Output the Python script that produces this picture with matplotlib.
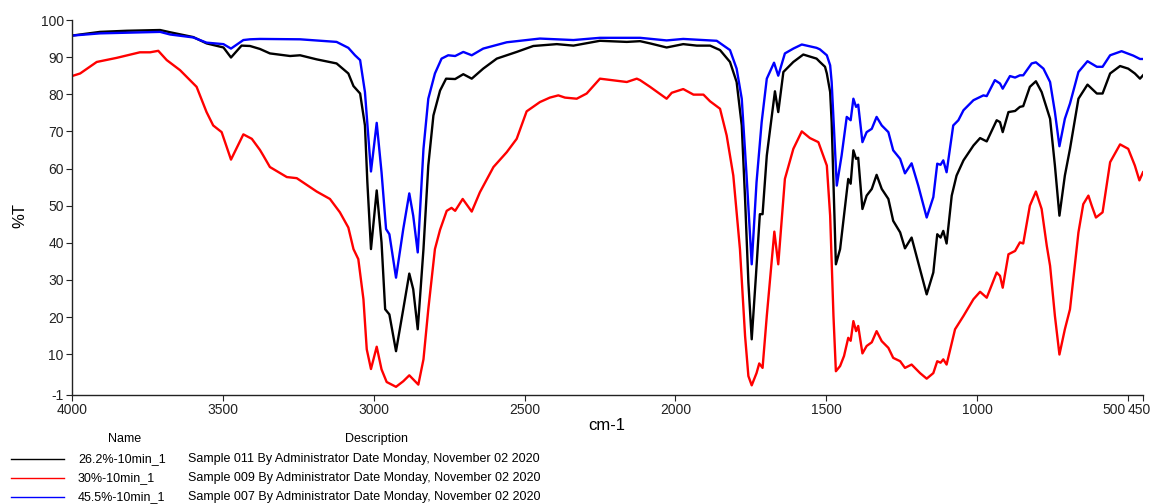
import matplotlib
matplotlib.use("Agg")
import matplotlib.pyplot as plt
from matplotlib.lines import Line2D
from matplotlib.transforms import ScaledTranslation

plt.rcParams['font.family'] = ['Liberation Sans', 'DejaVu Sans']

# ---------------- data (wavenumber cm-1, %T) ----------------
black_wn = [4000, 3907, 3819, 3708, 3675, 3598, 3554, 3498, 3473, 3438, 3410, 3377, 3344, 3277, 3244,
            3189, 3123, 3084, 3067, 3045, 3029, 3021, 3009, 2990, 2974, 2962, 2948, 2926, 2902, 2882,
            2869, 2854, 2835, 2819, 2802, 2780, 2760, 2730, 2703, 2675, 2637, 2592, 2526, 2471, 2393,
            2338, 2250, 2161, 2117, 2084, 2029, 1974, 1929, 1885, 1852, 1819, 1797, 1780, 1769, 1758,
            1747, 1733, 1720, 1711, 1697, 1670, 1659, 1642, 1609, 1576, 1532, 1521, 1504, 1498, 1487,
            1482, 1468, 1454, 1441, 1427, 1419, 1410, 1401, 1394, 1380, 1366, 1349, 1333, 1316, 1294,
            1278, 1255, 1239, 1217, 1195, 1167, 1145, 1132, 1121, 1112, 1101, 1084, 1068, 1045, 1012,
            990, 968, 935, 924, 915, 896, 874, 858, 847, 825, 805, 786, 758, 742, 727, 709, 692, 664,
            634, 603, 584, 559, 526, 499, 477, 460, 450]
black_t = [95.8, 96.8, 97.1, 97.3, 96.7, 95.4, 93.7, 92.6, 89.9, 93.1, 93.0, 92.2, 91.0, 90.3, 90.5,
           89.4, 88.3, 85.6, 82.2, 80.2, 71.6, 56.3, 38.3, 54.1, 40.1, 22.1, 20.7, 10.8, 22.1, 31.7,
           27.5, 16.7, 38.3, 60.8, 74.3, 81.0, 84.2, 84.1, 85.4, 84.2, 86.9, 89.6, 91.4, 93.0, 93.5,
           93.1, 94.4, 94.1, 94.3, 93.7, 92.6, 93.5, 93.1, 93.1, 91.9, 88.7, 83.3, 71.6, 51.8, 29.3,
           14.0, 31.1, 47.7, 47.7, 63.5, 80.8, 75.2, 86.0, 88.7, 90.7, 89.6, 88.7, 87.4, 85.6, 80.6,
           72.5, 34.2, 38.3, 47.3, 57.2, 55.9, 64.9, 62.6, 62.9, 49.1, 52.7, 54.5, 58.3, 54.5, 51.8,
           45.9, 42.8, 38.5, 41.4, 34.7, 26.1, 32.0, 42.3, 41.4, 43.2, 39.8, 52.7, 58.1, 62.2, 66.2,
           68.2, 67.3, 73.0, 72.5, 69.8, 75.2, 75.5, 76.6, 76.8, 82.0, 83.5, 80.6, 73.4, 60.8, 47.3,
           58.1, 65.3, 78.8, 82.6, 80.2, 80.2, 85.6, 87.6, 86.9, 85.6, 84.2, 85.1]

red_wn = [4000, 3973, 3918, 3852, 3775, 3741, 3714, 3686, 3642, 3609, 3587, 3554, 3532, 3504, 3473,
          3432, 3404, 3377, 3366, 3344, 3288, 3255, 3189, 3145, 3112, 3084, 3067, 3051, 3034, 3023,
          3009, 2990, 2974, 2957, 2926, 2902, 2882, 2869, 2852, 2835, 2819, 2797, 2780, 2758, 2742,
          2730, 2705, 2675, 2648, 2603, 2559, 2526, 2493, 2449, 2416, 2388, 2366, 2327, 2294, 2250,
          2161, 2128, 2117, 2084, 2029, 2012, 1974, 1940, 1907, 1885, 1852, 1830, 1808, 1786, 1769,
          1758, 1747, 1731, 1722, 1711, 1697, 1672, 1659, 1637, 1609, 1581, 1554, 1526, 1510, 1498,
          1487, 1476, 1468, 1454, 1441, 1427, 1419, 1410, 1401, 1394, 1380, 1366, 1349, 1333, 1316,
          1294, 1278, 1255, 1239, 1217, 1189, 1167, 1145, 1132, 1121, 1112, 1101, 1073, 1045, 1012,
          990, 968, 935, 924, 915, 896, 874, 858, 847, 825, 805, 786, 769, 758, 742, 727, 709, 692,
          664, 648, 631, 620, 606, 584, 559, 526, 499, 477, 462, 450]
red_t = [84.9, 85.6, 88.7, 89.8, 91.3, 91.3, 91.7, 89.2, 86.5, 83.8, 82.0, 75.2, 71.6, 69.8, 62.4,
         69.2, 68.0, 65.0, 63.5, 60.4, 57.7, 57.4, 53.8, 51.8, 48.2, 44.1, 38.3, 35.6, 24.8, 11.3,
         6.0, 12.0, 5.9, 2.5, 1.2, 2.7, 4.3, 3.2, 1.8, 8.6, 22.1, 38.3, 43.5, 48.6, 49.4,
         48.6, 51.8, 48.4, 53.6, 60.4, 64.4, 68.0, 75.4, 77.9, 79.1, 79.7, 79.1, 78.8, 80.2, 84.2,
         83.3, 84.2, 83.8, 82.0, 78.8, 80.4, 81.4, 79.9, 79.9, 78.1, 76.1, 68.9, 58.1, 38.3, 14.9,
         4.1, 1.6, 4.9, 7.5, 6.3, 20.3, 43.0, 34.2, 57.2, 65.3, 70.0, 68.2, 67.1, 63.5, 60.8,
         47.3, 20.3, 5.4, 6.8, 9.5, 14.4, 13.6, 18.9, 16.2, 17.6, 10.2, 12.2, 13.2, 16.2, 13.5,
         11.7, 9.0, 8.1, 6.3, 7.2, 4.9, 3.4, 4.9, 8.1, 7.7, 8.6, 7.2, 16.7, 20.3, 24.8,
         26.8, 25.2, 32.0, 31.1, 27.9, 36.9, 37.8, 40.1, 39.8, 50.0, 53.8, 49.1, 39.2, 33.8, 20.3, 9.9, 16.7, 22.1,
         42.8, 50.4, 52.7, 50.0, 46.8, 48.2, 61.7, 66.5, 65.3, 60.8, 56.8, 59.0]

blue_wn = [4000, 3907, 3708, 3675, 3598, 3554, 3498, 3473, 3432, 3410, 3377, 3244, 3123, 3084, 3062,
           3045, 3029, 3009, 2990, 2974, 2959, 2948, 2926, 2902, 2882, 2869, 2854, 2835, 2819, 2797,
           2775, 2753, 2730, 2703, 2675, 2637, 2559, 2449, 2338, 2250, 2117, 2029, 1974, 1863, 1819,
           1797, 1780, 1764, 1747, 1731, 1714, 1697, 1673, 1659, 1637, 1609, 1581, 1532, 1521, 1498,
           1487, 1482, 1465, 1449, 1432, 1419, 1410, 1401, 1394, 1380, 1366, 1349, 1333, 1316, 1294,
           1278, 1255, 1239, 1217, 1195, 1167, 1145, 1132, 1121, 1112, 1101, 1079, 1062, 1045, 1012,
           979, 968, 941, 924, 915, 891, 874, 858, 847, 819, 805, 780, 758, 742, 727, 709, 692, 664,
           634, 603, 584, 559, 521, 482, 460, 450]
blue_t = [95.8, 96.4, 96.8, 96.1, 95.3, 93.9, 93.5, 92.3, 94.6, 94.8, 94.9, 94.8, 94.1, 92.5, 90.5,
          89.2, 80.6, 59.2, 72.3, 59.0, 43.7, 42.3, 30.6, 43.7, 53.3, 47.3, 37.4, 65.3, 78.8, 85.6,
          89.6, 90.5, 90.3, 91.4, 90.5, 92.3, 94.0, 95.0, 94.6, 95.2, 95.2, 94.5, 94.9, 94.4, 91.9,
          86.9, 78.8, 58.1, 34.2, 56.3, 72.5, 84.2, 88.5, 85.0, 91.0, 92.3, 93.4, 92.5, 92.1, 90.5,
          87.8, 83.3, 55.4, 63.5, 73.9, 73.0, 78.8, 76.6, 77.2, 67.1, 69.8, 70.7, 73.9, 71.6, 69.8,
          64.9, 62.6, 58.7, 61.4, 55.4, 46.8, 52.3, 61.3, 61.0, 62.2, 59.0, 71.6, 73.0, 75.7, 78.4,
          79.7, 79.5, 83.8, 82.9, 81.5, 84.9, 84.5, 85.1, 85.1, 88.3, 88.6, 86.9, 83.3, 75.2, 66.0,
          73.4, 77.5, 86.0, 88.9, 87.4, 87.4, 90.5, 91.6, 90.4, 89.5, 89.5]

names = ["26.2%-10min_1", "30%-10min_1", "45.5%-10min_1"]
descriptions = ["Sample 011 By Administrator Date Monday, November 02 2020",
                "Sample 009 By Administrator Date Monday, November 02 2020",
                "Sample 007 By Administrator Date Monday, November 02 2020"]
colors = ["#000000", "#ff0000", "#0000ff"]

x_ticks = [4000, 3500, 3000, 2500, 2000, 1500, 1000, 500, 450]
y_ticks = [-1, 10, 20, 30, 40, 50, 60, 70, 80, 90, 100]

# ---------------- figure ----------------
W, H = 1155, 504
fig = plt.figure(figsize=(W / 100, H / 100), dpi=100)
ax = fig.add_axes([72 / W, 1 - 395 / H, (1143 - 72) / W, (395 - 20) / H])

series = [(black_wn, black_t), (red_wn, red_t), (blue_wn, blue_t)]
for (wn, t), c in zip(series, colors):
    ax.plot(wn, t, color=c, lw=1.7, solid_joinstyle='round')

ax.set_xlim(4000, 450)
ax.set_ylim(-1, 100)
ax.set_xticks(x_ticks)
ax.set_xticklabels([str(v) for v in x_ticks])
ax.set_yticks(y_ticks)
ax.set_yticklabels([str(v) for v in y_ticks])
ax.tick_params(axis='both', labelsize=10, length=4, width=0.8, colors='#222222', pad=2)
for s in ['top', 'right']:
    ax.spines[s].set_visible(False)
for s in ['left', 'bottom']:
    ax.spines[s].set_linewidth(1.0)
    ax.spines[s].set_color('#222222')

# place the crowded "500" and "450" labels side by side as in the reference
xlabels = ax.get_xticklabels()
xlabels[-2].set_transform(xlabels[-2].get_transform() + ScaledTranslation(-14 / 100, 0, fig.dpi_scale_trans))
xlabels[-1].set_transform(xlabels[-1].get_transform() + ScaledTranslation(-4 / 100, 0, fig.dpi_scale_trans))

fig.text(20 / W, 1 - 215 / H, "%T", rotation=90, ha='center', va='center', fontsize=12)
fig.text(607 / W, 1 - 425 / H, "cm-1", ha='center', va='center', fontsize=12)

# ---------------- legend table ----------------
fig.text(125 / W, 1 - 439 / H, "Name", ha='center', va='center', fontsize=9)
fig.text(377 / W, 1 - 439 / H, "Description", ha='center', va='center', fontsize=9)
rows_y = [459, 478, 497]
for yy, nm, ds, c in zip(rows_y, names, descriptions, colors):
    fig.add_artist(Line2D([11 / W, 64 / W], [1 - yy / H, 1 - yy / H], color=c, lw=1.0,
                          transform=fig.transFigure))
    fig.text(78 / W, 1 - yy / H, nm, ha='left', va='center', fontsize=9)
    fig.text(188 / W, 1 - yy / H, ds, ha='left', va='center', fontsize=9)

fig.savefig("out.png", dpi=100)
